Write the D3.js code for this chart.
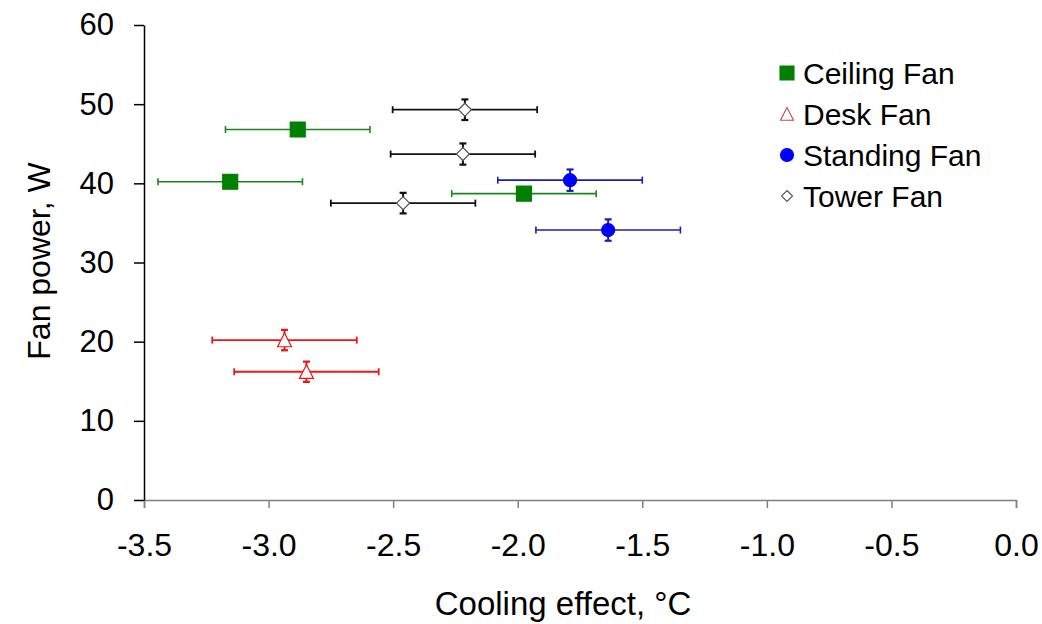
<!DOCTYPE html>
<html>
<head>
<meta charset="utf-8">
<script src="https://cdn.jsdelivr.net/npm/d3@7"></script>
<style>
  html, body { margin: 0; padding: 0; background: #fff; }
  svg { display: block; font-family: "Liberation Sans", Arial, sans-serif; }
</style>
</head>
<body>
<svg id="chart" width="1042" height="624"></svg>
<script>
// Fan types, their cooling effect (°C), power (W) and error half-widths
const fanTypes = ["Ceiling Fan", "Desk Fan", "Standing Fan", "Tower Fan"];
const fanType   = ["Ceiling Fan", "Ceiling Fan", "Ceiling Fan", "Desk Fan", "Desk Fan",
                   "Standing Fan", "Standing Fan", "Tower Fan", "Tower Fan", "Tower Fan"];
const coolingEffect = [-2.883, -3.154, -1.975, -2.936, -2.848, -1.790, -1.637, -2.212, -2.220, -2.460];
const fanPower      = [46.8, 40.2, 38.7, 20.2, 16.2, 40.4, 34.1, 49.3, 43.7, 37.5];
const coolingError  = [0.29, 0.29, 0.29, 0.29, 0.29, 0.29, 0.29, 0.29, 0.29, 0.29];
const powerError    = [0.8, 0.8, 0.8, 1.29, 1.28, 1.35, 1.35, 1.3, 1.34, 1.3];
const xTicks = [-3.5, -3.0, -2.5, -2.0, -1.5, -1.0, -0.5, 0.0];
const yTicks = [0, 10, 20, 30, 40, 50, 60];

const points = fanType.map((t, i) => ({
  type: t, x: coolingEffect[i], y: fanPower[i], ex: coolingError[i], ey: powerError[i]
}));

const styles = {
  "Ceiling Fan":  { shape: "square",   fill: "#008000", stroke: "#008000", bar: "#1a861a", barW: 1.6, size: 15, legendSize: 14, legendStroke: "#008000" },
  "Desk Fan":     { shape: "triangle", fill: "#ffffff", stroke: "#e81818", bar: "#e81818", barW: 1.8, size: 14, legendSize: 13, legendStroke: "#c44848" },
  "Standing Fan": { shape: "circle",   fill: "#0000ff", stroke: "#0000ff", bar: "#1c1cb4", barW: 1.6, size: 13, legendSize: 13, legendStroke: "#0000ff" },
  "Tower Fan":    { shape: "diamond",  fill: "#ffffff", stroke: "#555555", bar: "#111111", barW: 1.8, size: 13, legendSize: 11, legendStroke: "#555555" }
};

// marker outline for a given shape and overall size (px)
function markerPath(shape, s) {
  const h = s / 2;
  switch (shape) {
    case "square":   return `M${-h},${-h}H${h}V${h}H${-h}Z`;
    case "triangle": return `M0,${-h}L${h},${h * 0.95}L${-h},${h * 0.95}Z`;
    case "diamond":  return `M0,${-h}L${h},0L0,${h}L${-h},0Z`;
    case "circle":   return `M${h},0A${h},${h} 0 1,1 ${-h},0A${h},${h} 0 1,1 ${h},0Z`;
  }
}

const svg = d3.select("#chart");
const x = d3.scaleLinear().domain([-3.5, 0]).range([144, 1016]);
const y = d3.scaleLinear().domain([0, 60]).range([500, 25]);

// axes
const xAxis = svg.append("g")
  .attr("transform", `translate(0,${y(0)})`)
  .call(d3.axisBottom(x).tickValues(xTicks).tickSize(8).tickPadding(25));
xAxis.select(".domain").attr("stroke", "#808080").attr("stroke-width", 1.5);
xAxis.selectAll(".tick line").attr("stroke", "#808080").attr("stroke-width", 1.5);
xAxis.selectAll(".tick text").attr("font-size", 32).attr("fill", "#000")
  .text(d => d3.format(".1f")(d).replace("−", "-"));

const yAxis = svg.append("g")
  .attr("transform", `translate(${x(-3.5)},0)`)
  .call(d3.axisLeft(y).tickValues(yTicks).tickSize(10).tickPadding(20).tickSizeOuter(0));
yAxis.select(".domain").attr("stroke", "#000").attr("stroke-width", 1.5);
yAxis.selectAll(".tick line").attr("stroke", "#000").attr("stroke-width", 1.5);
yAxis.selectAll(".tick text").attr("font-size", 31).attr("fill", "#000");

// axis titles
svg.append("text")
  .attr("x", 563).attr("y", 615)
  .attr("text-anchor", "middle").attr("font-size", 33)
  .text("Cooling effect, °C");
svg.append("text")
  .attr("transform", `translate(50,261) rotate(-90)`)
  .attr("text-anchor", "middle").attr("font-size", 32)
  .text("Fan power, W");

// error bars
const bars = svg.append("g");
const capH = 3.5;
points.forEach(p => {
  const st = styles[p.type];
  const g = bars.append("g").attr("stroke", st.bar).attr("stroke-width", st.barW).attr("fill", "none");
  const x0 = x(p.x - p.ex), x1 = x(p.x + p.ex), yc = y(p.y);
  g.append("line").attr("x1", x0).attr("x2", x1).attr("y1", yc).attr("y2", yc);
  g.append("line").attr("x1", x0).attr("x2", x0).attr("y1", yc - capH).attr("y2", yc + capH);
  g.append("line").attr("x1", x1).attr("x2", x1).attr("y1", yc - capH).attr("y2", yc + capH);
  const y0 = y(p.y - p.ey), y1 = y(p.y + p.ey), xc = x(p.x);
  g.append("line").attr("x1", xc).attr("x2", xc).attr("y1", y0).attr("y2", y1).attr("stroke-width", 2);
  g.append("line").attr("x1", xc - capH).attr("x2", xc + capH).attr("y1", y0).attr("y2", y0).attr("stroke-width", 2.2);
  g.append("line").attr("x1", xc - capH).attr("x2", xc + capH).attr("y1", y1).attr("y2", y1).attr("stroke-width", 2.2);
});

// markers
svg.append("g").selectAll("path")
  .data(points)
  .join("path")
  .attr("transform", d => `translate(${x(d.x)},${y(d.y)})`)
  .attr("d", d => markerPath(styles[d.type].shape, styles[d.type].size))
  .attr("fill", d => styles[d.type].fill)
  .attr("stroke", d => styles[d.type].stroke)
  .attr("stroke-width", 1.2);

// legend
const legend = svg.append("g");
const legendY = [73, 114, 155, 196];
fanTypes.forEach((t, i) => {
  const st = styles[t];
  legend.append("path")
    .attr("transform", `translate(787,${legendY[i]})`)
    .attr("d", markerPath(st.shape, st.legendSize))
    .attr("fill", st.fill)
    .attr("stroke", st.legendStroke)
    .attr("stroke-width", 1.1);
  legend.append("text")
    .attr("x", 803).attr("y", legendY[i]).attr("dy", "0.36em")
    .attr("font-size", 30)
    .text(t);
});
</script>
</body>
</html>
